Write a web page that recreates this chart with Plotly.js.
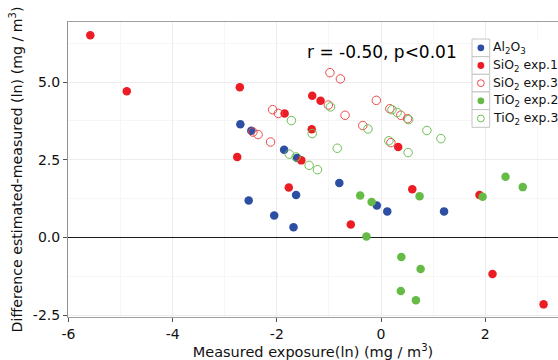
<!DOCTYPE html>
<html>
<head>
<meta charset="utf-8">
<script src="https://cdn.plot.ly/plotly-3.0.1.min.js"></script>
<style>html,body{margin:0;padding:0;background:#fff;}#chart{width:558px;height:360px;}</style>
</head>
<body>
<div id="chart"></div>
<script>
// ---- data ----
var seriesNames = ['Al<sub>2</sub>O<sub>3</sub>', 'SiO<sub>2</sub> exp.1', 'SiO<sub>2</sub> exp.3', 'TiO<sub>2</sub> exp.2', 'TiO<sub>2</sub> exp.3'];

var al2o3_x = [-2.70, -2.49, -1.86, -1.61, -2.54, -2.05, -1.68, -1.63, -0.80, -0.08, 0.12, 1.21];
var al2o3_y = [3.64, 3.43, 2.82, 2.56, 1.19, 0.71, 0.33, 1.37, 1.75, 1.03, 0.84, 0.84];

var sio2e1_x = [-5.58, -4.88, -2.71, -2.76, -1.85, -1.32, -1.16, -1.33, -1.53, -1.77, 0.33, -0.58, 0.60, 1.89, 2.14, 3.12];
var sio2e1_y = [6.50, 4.70, 4.83, 2.59, 3.99, 4.56, 4.40, 3.48, 2.48, 1.61, 2.91, 0.42, 1.55, 1.37, -1.17, -2.15];

var sio2e3_x = [-2.08, -1.97, -2.46, -2.36, -2.12, -0.98, -0.78, -0.09, -0.69, -0.35, 0.17, 0.38, 0.51, 0.19, -1.01];
var sio2e3_y = [4.11, 3.99, 3.39, 3.31, 3.07, 5.30, 5.10, 4.41, 3.93, 3.60, 4.14, 3.93, 3.82, 3.05, 4.26];

var tio2e2_x = [-0.40, -0.18, 0.74, -0.28, 2.39, 2.72, 1.95, 0.39, 0.76, 0.38, 0.67];
var tio2e2_y = [1.35, 1.14, 1.33, 0.03, 1.95, 1.62, 1.31, -0.63, -1.01, -1.72, -2.02];

var tio2e3_x = [-1.72, -1.32, -0.97, -1.76, -1.63, -1.38, -1.22, -0.84, -0.25, 0.21, 0.31, 0.53, 0.15, 0.52, 0.88, 1.15];
var tio2e3_y = [3.76, 3.34, 4.20, 2.68, 2.59, 2.32, 2.18, 2.87, 3.49, 4.11, 4.02, 3.79, 3.11, 2.73, 3.44, 3.18];

var xTickVals = [-6, -4, -2, 0, 2];
var xTickLabels = ['-6', '-4', '-2', '0', '2'];
var yTickVals = [-2.5, 0, 2.5, 5];
var yTickLabels = ['-2.5', '0.0', '2.5', '5.0'];
var xMinorVals = [-5, -3, -1, 1, 3];
var yMinorVals = [-1.25, 1.25, 3.75, 6.25];
var statText = 'r = -0.50, p<0.01';

// ---- styling ----
var FONT = 'DejaVu Sans, Arial, sans-serif';
var styles = [
  {color: '#2d4fa3', open: false},
  {color: '#ec1c24', open: false},
  {color: '#ee4a4a', open: true},
  {color: '#66bb46', open: false},
  {color: '#6cc053', open: true}
];
var xs = [al2o3_x, sio2e1_x, sio2e3_x, tio2e2_x, tio2e3_x];
var ys = [al2o3_y, sio2e1_y, sio2e3_y, tio2e2_y, tio2e3_y];

var traces = [];
for (var i = 0; i < xs.length; i++) {
  var s = styles[i];
  traces.push({
    type: 'scatter', mode: 'markers', name: seriesNames[i], showlegend: false,
    x: xs[i], y: ys[i],
    marker: s.open ?
      {symbol: 'circle-open', size: 8.5, color: s.color, line: {color: s.color, width: 1}} :
      {symbol: 'circle', size: 8.5, color: s.color, line: {width: 0}}
  });
}

// plot geometry (pixels)
var W = 558, H = 360, mL = 68, mT = 22, mB = 43, mR = 0;
var pw = W - mL - mR, ph = H - mT - mB;
function px2paperX(p) { return (p - mL) / pw; }
function px2paperY(p) { return (H - mB - p) / ph; }

// manual legend (ggplot-like keys)
var shapes = [];
var annotations = [];
var legL = 472, legT = 39, rowH = 17.66, keyW = 17.7, dotR = 3.4;
shapes.push({type: 'rect', xref: 'paper', yref: 'paper', x0: px2paperX(legL), x1: px2paperX(W + 5),
  y0: px2paperY(legT + rowH * seriesNames.length), y1: px2paperY(legT), line: {width: 0}, fillcolor: '#ffffff', layer: 'above'});
for (var k = 0; k < seriesNames.length; k++) {
  var rowTop = legT + rowH * k;
  var cy = rowTop + rowH / 2;
  var cx = legL + keyW / 2;
  shapes.push({type: 'rect', xref: 'paper', yref: 'paper', x0: px2paperX(legL), x1: px2paperX(legL + keyW),
    y0: px2paperY(rowTop + rowH), y1: px2paperY(rowTop), line: {color: '#c4c4c4', width: 1}, fillcolor: '#ffffff', layer: 'above'});
  var st = styles[k];
  shapes.push({type: 'circle', xref: 'paper', yref: 'paper',
    x0: px2paperX(cx - dotR), x1: px2paperX(cx + dotR), y0: px2paperY(cy + dotR), y1: px2paperY(cy - dotR),
    line: {color: st.color, width: st.open ? 1 : 0}, fillcolor: st.open ? 'rgba(0,0,0,0)' : st.color, layer: 'above'});
  annotations.push({xref: 'paper', yref: 'paper', x: px2paperX(legL + keyW + 1.5), y: px2paperY(cy),
    xanchor: 'left', yanchor: 'middle', showarrow: false, text: seriesNames[k],
    font: {family: FONT, size: 12.4, color: '#111'}});
}
annotations.push({xref: 'paper', yref: 'paper', x: px2paperX(382), y: px2paperY(52), xanchor: 'center', yanchor: 'middle',
  showarrow: false, text: statText, font: {family: FONT, size: 17, color: '#000'}});

var layout = {
  width: W, height: H,
  margin: {l: mL, r: mR, t: mT, b: mB, pad: 0},
  paper_bgcolor: '#ffffff', plot_bgcolor: '#ffffff',
  showlegend: false,
  font: {family: FONT, color: '#111'},
  xaxis: {
    range: [-6.008, 3.397], tickmode: 'array', tickvals: xTickVals, ticktext: xTickLabels,
    showgrid: true, gridcolor: '#ececec', gridwidth: 1, zeroline: false,
    minor: {tickvals: xMinorVals, showgrid: true, gridcolor: '#f6f6f6', gridwidth: 1, ticklen: 0},
    showline: true, linecolor: '#a0a0a0', linewidth: 1, mirror: true,
    ticks: 'outside', ticklen: 4, tickcolor: '#555', tickwidth: 1,
    tickfont: {family: FONT, size: 14, color: '#111'},
    title: {text: 'Measured exposure(ln) (mg / m<sup>3</sup>)', font: {family: FONT, size: 14.5, color: '#111'}, standoff: 5},
    automargin: false, fixedrange: true
  },
  yaxis: {
    range: [-2.556, 6.929], tickmode: 'array', tickvals: yTickVals, ticktext: yTickLabels,
    showgrid: true, gridcolor: '#ececec', gridwidth: 1,
    zeroline: true, zerolinecolor: '#1a1a1a', zerolinewidth: 1.6,
    minor: {tickvals: yMinorVals, showgrid: true, gridcolor: '#f6f6f6', gridwidth: 1, ticklen: 0},
    showline: true, linecolor: '#909090', linewidth: 1, mirror: false,
    ticks: 'outside', ticklen: 4, tickcolor: '#555', tickwidth: 1,
    tickfont: {family: FONT, size: 14, color: '#111'},
    title: {text: 'Difference estimated-measured (ln) (mg / m<sup>3</sup>)', font: {family: FONT, size: 14.2, color: '#111'}, standoff: 6},
    automargin: false, fixedrange: true
  },
  shapes: shapes,
  annotations: annotations
};

Plotly.newPlot('chart', traces, layout, {displayModeBar: false, staticPlot: true});
</script>
</body>
</html>
